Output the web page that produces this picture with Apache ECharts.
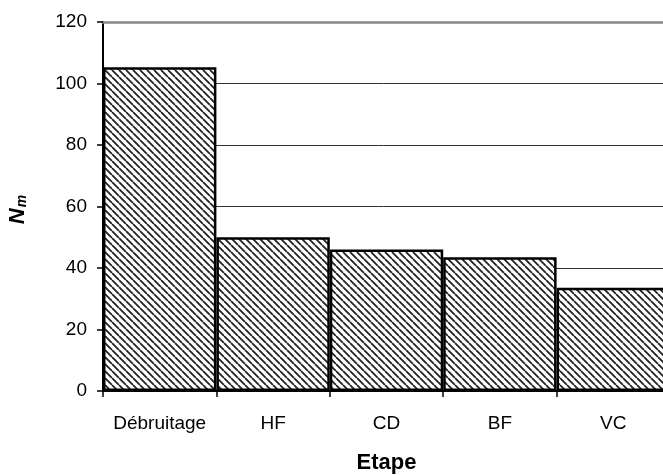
<!DOCTYPE html>
<html>
<head>
<meta charset="utf-8">
<script src="https://cdn.jsdelivr.net/npm/echarts@6/dist/echarts.min.js"></script>
<style>html,body{margin:0;padding:0;background:#fff}#c{width:663px;height:475px}</style>
</head>
<body>
<div id="c"></div>
<script>
const categories = ['Débruitage', 'HF', 'CD', 'BF', 'VC'];
const values = [105.3, 50, 46, 43.5, 33.6];
const yTicks = [0, 20, 40, 60, 80, 100, 120];

function hatch() {
  const s = 7;
  const cv = document.createElement('canvas');
  cv.width = s; cv.height = s;
  const ctx = cv.getContext('2d');
  ctx.fillStyle = '#fff';
  ctx.fillRect(0, 0, s, s);
  ctx.strokeStyle = '#222';
  ctx.lineWidth = 1.8;
  ctx.beginPath();
  for (const o of [-s, 0, s]) { ctx.moveTo(o, 0); ctx.lineTo(o + s, s); }
  ctx.stroke();
  return cv;
}

const chart = echarts.init(document.getElementById('c'), null, {renderer: 'canvas'});
const font = 'Liberation Sans, Arial, sans-serif';
chart.setOption({
  animation: false,
  grid: {left: 103, top: 22, width: 567, bottom: 84, containLabel: false, outerBoundsMode: 'none'},
  xAxis: [{
    type: 'category', data: categories, position: 'bottom',
    name: 'Etape', nameLocation: 'middle', nameGap: 61,
    nameTextStyle: {fontFamily: font, fontSize: 22, fontWeight: 'bold', color: '#000'},
    axisLine: {lineStyle: {color: '#000', width: 2}},
    axisTick: {show: true, length: 6, lineStyle: {color: '#000', width: 1.5}, alignWithLabel: false},
    axisLabel: {fontFamily: font, fontSize: 19, color: '#000', margin: 23, interval: 0},
    splitLine: {show: false}
  }, {
    type: 'category', data: categories, position: 'top',
    axisLine: {lineStyle: {color: '#888', width: 2.5}},
    axisTick: {show: false}, axisLabel: {show: false}, splitLine: {show: false}
  }],
  yAxis: {
    type: 'value', min: yTicks[0], max: yTicks[yTicks.length - 1], interval: 20,
    name: '{n|N}{m|m}', nameLocation: 'middle', nameGap: 74, nameRotate: 90,
    nameTextStyle: {
      padding: [0, 6, 0, 0],
      rich: {
        n: {fontFamily: font, fontSize: 22, fontWeight: 'bold', fontStyle: 'italic', color: '#000'},
        m: {fontFamily: font, fontSize: 14, fontWeight: 'bold', fontStyle: 'italic', color: '#000', verticalAlign: 'bottom', padding: [9, 0, 0, 1]}
      }
    },
    axisLine: {show: true, lineStyle: {color: '#000', width: 2}},
    axisTick: {show: true, length: 6, lineStyle: {color: '#000', width: 1.5}},
    axisLabel: {fontFamily: font, fontSize: 19, color: '#000', margin: 16},
    splitLine: {show: true, lineStyle: {color: '#333', width: 1}}
  },
  series: [{
    type: 'bar', data: values, barCategoryGap: '0%',
    itemStyle: {color: {image: hatch(), repeat: 'repeat'}, borderColor: '#000', borderWidth: 2.5}
  }]
});
</script>
</body>
</html>
